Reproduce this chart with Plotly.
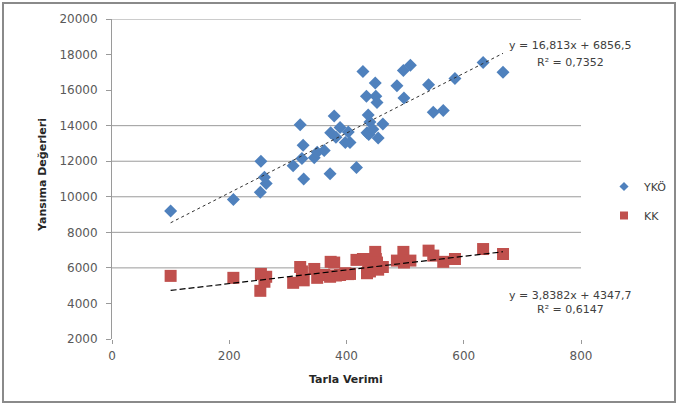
import plotly.graph_objects as go

# ---- data ----
tarla_verimi = [100, 207, 253, 254, 260, 263, 309, 321, 324, 326, 327, 345, 350, 362,
                372, 373, 379, 382, 389, 398, 403, 406, 417, 428, 434, 435, 437, 438,
                440, 445, 449, 450, 452, 454, 462, 486, 497, 498, 509, 540, 548, 565,
                585, 633, 667]
yko = [9200, 9850, 10250, 12000, 11100, 10750, 11750, 14050, 12150, 12900, 11000, 12200,
       12500, 12600, 11300, 13600, 14550, 13350, 13900, 13050, 13650, 13050, 11650, 17050,
       15650, 13600, 14600, 13500, 14200, 13800, 16400, 15650, 15300, 13300, 14100, 16250,
       17100, 15550, 17400, 16300, 14750, 14850, 16650, 17550, 17000]
kk = [5550, 5440, 4710, 5660, 5220, 5500, 5160, 6050, 5800, 5380, 5300, 5940, 5440, 5600,
      5500, 6340, 6300, 5570, 5600, 5700, 5650, 5660, 6450, 6500, 6500, 5700, 5900, 6100,
      5800, 6110, 6900, 6500, 6300, 5900, 6050, 6410, 6900, 6300, 6410, 6970, 6690, 6340,
      6500, 7060, 6780]

# trendline coefficients shown on the chart
yko_slope, yko_intercept, yko_r2 = 16.813, 6856.5, "0,7352"
kk_slope, kk_intercept, kk_r2 = 3.8382, 4347.7, "0,6147"

x_ticks = [0, 200, 400, 600, 800]
y_ticks = [2000, 4000, 6000, 8000, 10000, 12000, 14000, 16000, 18000, 20000]
grid_vals = [6000, 8000, 10000, 12000, 14000, 20000]

BLUE = "#4F81BD"
RED = "#C0504D"
FONT = "DejaVu Sans"

xmin, xmax = min(tarla_verimi), max(tarla_verimi)
trend_x = [xmin, xmax]

fig = go.Figure()

# gridlines (only those visible in the reference)
for g in grid_vals:
    fig.add_shape(type="line", xref="x", yref="y", x0=0, x1=800, y0=g, y1=g,
                  line=dict(color="#9a9a9a", width=1), layer="below")

fig.add_trace(go.Scatter(x=tarla_verimi, y=yko, mode="markers", name="YKÖ",
                         showlegend=False,
                         marker=dict(symbol="diamond", size=10, color=BLUE, line=dict(width=0))))
fig.add_trace(go.Scatter(x=tarla_verimi, y=kk, mode="markers", name="KK",
                         showlegend=False,
                         marker=dict(symbol="square", size=12, color=RED, line=dict(width=0))))

fig.add_trace(go.Scatter(x=trend_x, y=[yko_slope * v + yko_intercept for v in trend_x],
                         mode="lines", showlegend=False, hoverinfo="skip",
                         line=dict(color="#303030", width=1, dash="dot")))
fig.add_trace(go.Scatter(x=trend_x, y=[kk_slope * v + kk_intercept for v in trend_x],
                         mode="lines", showlegend=False, hoverinfo="skip",
                         line=dict(color="#000000", width=1.2, dash="6px,3px")))

# legend entries
fig.add_trace(go.Scatter(x=[None], y=[None], mode="markers", name="YKÖ", legendgroup="a",
                         marker=dict(symbol="diamond", size=7, color=BLUE)))
fig.add_trace(go.Scatter(x=[None], y=[None], mode="markers", name="KK", legendgroup="b",
                         marker=dict(symbol="square", size=8, color=RED)))

L, R, T, B = 112, 97, 19, 66
W, H = 678, 405
pw, ph = W - L - R, H - T - B

def px(xp):
    return (xp - L) / pw

def py(yp):
    return (H - B - yp) / ph

# outer frame
fig.add_shape(type="rect", xref="paper", yref="paper",
              x0=px(3), x1=px(675), y0=py(402), y1=py(3),
              line=dict(color="#8a8a8a", width=2))

ann_font = dict(family=FONT, size=11, color="#404040")
def note(xp, yp, text, **kw):
    fig.add_annotation(x=px(xp), y=py(yp), xref="paper", yref="paper", showarrow=False,
                       xanchor="center", yanchor="middle", text=text, **kw)

note(570, 45, f"y = {str(yko_slope).replace('.', ',')}x + {str(yko_intercept).replace('.', ',')}",
     font=ann_font)
note(570, 62, f"R² = {yko_r2}", font=ann_font)
note(570, 295, f"y = {str(kk_slope).replace('.', ',')}x + {str(kk_intercept).replace('.', ',')}",
     font=ann_font)
note(570, 309, f"R² = {kk_r2}", font=ann_font)

# axis titles
note(346, 379, "<b>Tarla Verimi</b>", font=dict(family=FONT, size=11, color="#262626"))
note(42, 175, "<b>Yansıma Değerleri</b>", textangle=-90,
     font=dict(family=FONT, size=11, color="#262626"))

fig.update_layout(
    width=W, height=H,
    margin=dict(l=L, r=R, t=T, b=B, autoexpand=False),
    paper_bgcolor="white", plot_bgcolor="white",
    font=dict(family=FONT, size=12, color="#595959"),
    legend=dict(x=px(604), y=py(172), xanchor="left", yanchor="top",
                font=dict(family=FONT, size=11, color="#404040"),
                traceorder="grouped", tracegroupgap=10, bgcolor="rgba(0,0,0,0)"),
    xaxis=dict(range=[0, 800], tickvals=x_ticks, showgrid=False, zeroline=False,
               showline=False, ticks="outside", ticklen=4, tickcolor="#9a9a9a",
               ticklabelstandoff=2, automargin=False,
               tickfont=dict(size=12, color="#595959")),
    yaxis=dict(range=[2000, 20000], tickvals=y_ticks, tickformat="d",
               showgrid=False, zeroline=False,
               showline=True, linecolor="#9a9a9a", linewidth=1,
               ticks="outside", ticklen=5, tickcolor="#9a9a9a",
               ticklabelstandoff=6, automargin=False,
               tickfont=dict(size=12, color="#595959")),
)

fig.write_html("out.html", config={"displayModeBar": False},
               post_script="document.body.style.margin='0';document.body.style.overflow='hidden';")
